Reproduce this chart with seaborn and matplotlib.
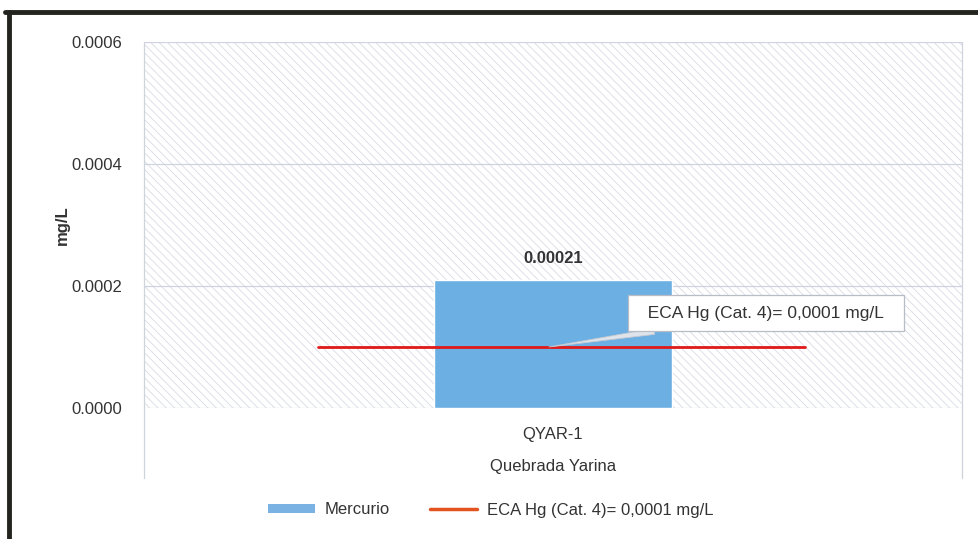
import matplotlib
matplotlib.use("Agg")
import matplotlib.pyplot as plt
from matplotlib.patches import Rectangle, Patch
from matplotlib.lines import Line2D
import seaborn as sns
import pandas as pd

# Data
stations = ["QYAR-1"]
group_label = "Quebrada Yarina"
mercury = [0.00021]
eca_limit = 0.0001
eca_label = "ECA Hg (Cat. 4)= 0,0001 mg/L"
y_ticks = [0.0, 0.0002, 0.0004, 0.0006]

sns.set_theme(style="white")
plt.rcParams["font.family"] = ["Liberation Sans", "DejaVu Sans"]
plt.rcParams["hatch.linewidth"] = 0.6
plt.rcParams["hatch.color"] = "#d8dbe3"

FS = 12
TXT = "#333333"

df = pd.DataFrame({"station": stations, "value": mercury})

fig = plt.figure(figsize=(9.79, 5.39), dpi=100)
ax = fig.add_axes([144 / 979, 1 - 408 / 539, 818 / 979, 366 / 539])
ax.set_facecolor("white")

# hatched plot area background
ax.add_patch(Rectangle((0, 0), 1, 1, transform=ax.transAxes, facecolor="white",
                       edgecolor="#d8dbe3", hatch="\\\\\\\\", linewidth=0, zorder=0))

sns.barplot(data=df, x="station", y="value", color="#6cafe3", width=0.29,
            saturation=1, ax=ax, zorder=3)

ax.set_xlim(-0.5, 0.5)
ax.set_ylim(0, 0.0006)
ax.set_yticks(y_ticks)
ax.set_yticklabels([f"{v:.4f}" for v in y_ticks], fontsize=FS, color=TXT)
ax.tick_params(axis="y", length=0, pad=16)
ax.tick_params(axis="x", length=0, pad=14, labelsize=FS, labelcolor=TXT)
ax.set_xlabel("")
ax.set_ylabel("mg/L", fontsize=FS, fontweight="bold", color=TXT, labelpad=1)
for s in ax.spines.values():
    s.set_visible(False)
for y in y_ticks:
    ax.axhline(y, color="#cfd3e0", linewidth=0.9, zorder=1)

# category group boundary lines extending below the axis
for xa in (0, 1):
    ax.plot([xa, xa], [-0.19, 1], transform=ax.transAxes, color="#cfd3dc",
            linewidth=0.9, clip_on=False, zorder=1)
ax.text(0.5, -0.16, group_label, transform=ax.transAxes, ha="center", va="center",
        fontsize=FS, color=TXT)

# ECA limit line
ax.plot([-0.287, 0.308], [eca_limit, eca_limit], color="#e01818", linewidth=2.0, zorder=4)

# value label
for i, v in enumerate(mercury):
    ax.text(i, v + 0.000035, f"{v:.5f}", ha="center", va="center", fontsize=FS,
            fontweight="bold", color=TXT, zorder=5)

# callout for the limit line
ax.annotate("  " + eca_label + "  ", xy=(-0.005, eca_limit), xytext=(0.26, 0.0001557),
            ha="center", va="center", fontsize=12.5, color=TXT,
            bbox=dict(boxstyle="square,pad=0.6", facecolor="white", edgecolor="#b8bcc6", linewidth=0.9),
            arrowprops=dict(arrowstyle="wedge,tail_width=0.35", facecolor="#dfe3ea",
                            edgecolor="#c5c9d2", linewidth=0.6, shrinkA=0, shrinkB=0,
                            relpos=(0.35, 0.0)),
            zorder=6)

# legend
handles = [Patch(facecolor="#7ab3e3", edgecolor="none"),
           Line2D([0], [0], color="#e2531f", linewidth=2.5)]
fig.legend(handles, ["Mercurio", eca_label], loc="center", bbox_to_anchor=(491 / 979, 1 - 510 / 539),
           ncol=2, frameon=False, fontsize=FS, handlelength=2.8, handleheight=0.5,
           columnspacing=2.4, handletextpad=0.6, labelcolor=TXT)

# dark frame on top and left
fig.add_artist(Line2D([5 / 979, 1], [1 - 12 / 539, 1 - 12 / 539], transform=fig.transFigure,
                      color="#24241e", linewidth=3.5))
fig.add_artist(Line2D([9 / 979, 9 / 979], [0, 1 - 12 / 539], transform=fig.transFigure,
                      color="#24241e", linewidth=3.5))

fig.savefig("out.png", dpi=100, facecolor="white")
